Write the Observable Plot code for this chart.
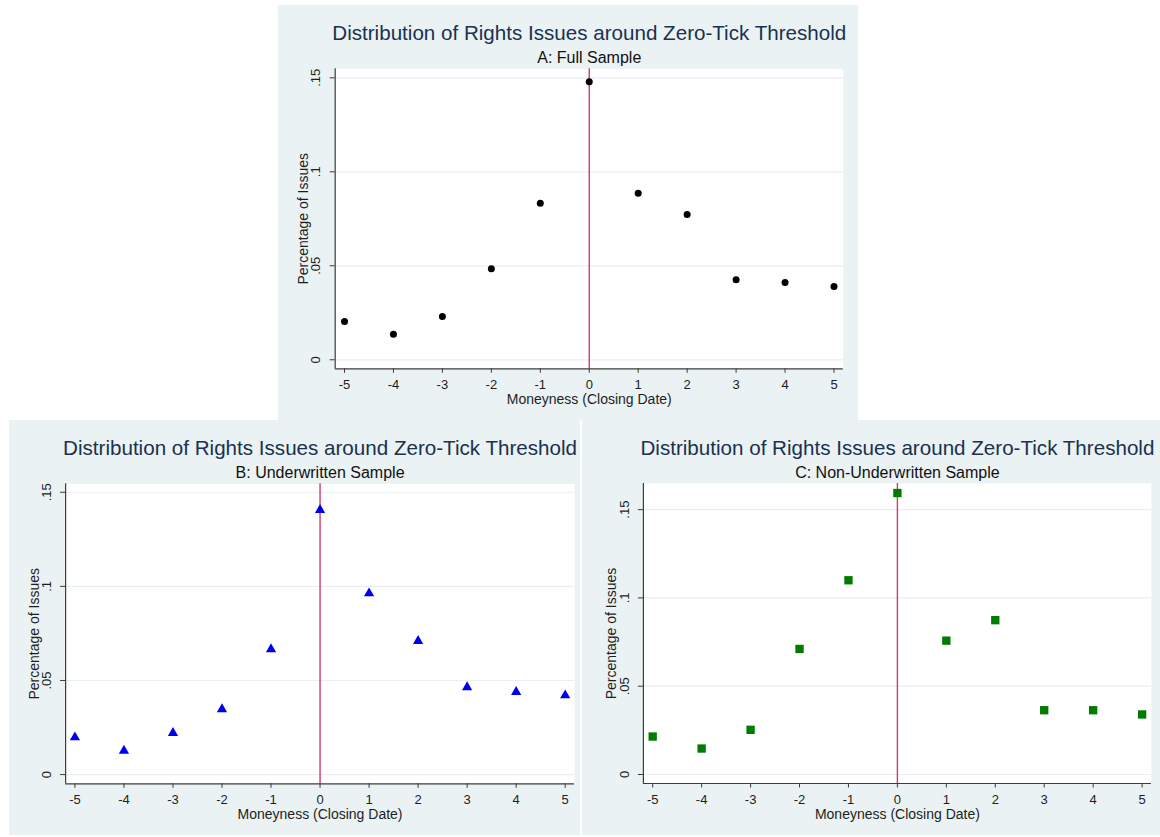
<!DOCTYPE html>
<html>
<head>
<meta charset="utf-8">
<script src="https://cdn.jsdelivr.net/npm/d3@7"></script>
<script src="https://cdn.jsdelivr.net/npm/@observablehq/plot@0.6"></script>
<style>
  html, body { margin: 0; padding: 0; background: #ffffff; }
  body { width: 1160px; height: 837px; position: relative; overflow: hidden; }
  svg.panel { position: absolute; }
</style>
</head>
<body>
<script>
// ---- data ----
const moneyness = [-5, -4, -3, -2, -1, 0, 1, 2, 3, 4, 5];
const xTickLabels = ["-5", "-4", "-3", "-2", "-1", "0", "1", "2", "3", "4", "5"];
const yTicks = [0, 0.05, 0.1, 0.15];
const yTickLabels = ["0", ".05", ".1", ".15"];
const fullSample = [0.0204, 0.0136, 0.0230, 0.0484, 0.0833, 0.1479, 0.0886, 0.0773, 0.0426, 0.0411, 0.0390];
const underwritten = [0.0198, 0.0127, 0.0221, 0.0347, 0.0666, 0.1406, 0.0963, 0.0710, 0.0464, 0.0439, 0.0421];
const nonUnderwritten = [0.0215, 0.0147, 0.0253, 0.0711, 0.1100, 0.1594, 0.0758, 0.0874, 0.0364, 0.0364, 0.0340];
const threshold = [0];
const mainTitle = "Distribution of Rights Issues around Zero-Tick Threshold";
const subtitles = ["A: Full Sample", "B: Underwritten Sample", "C: Non-Underwritten Sample"];
const xLabel = "Moneyness (Closing Date)";
const yLabel = "Percentage of Issues";

// ---- layout / style ----
const FONT = '"Liberation Sans", Arial, Helvetica, sans-serif';
const BG = "#eaf2f3";
const NAVY = "#1a3150";
const TEXT = "#1e1e1e";
const AXIS = "#3c3c3c";
const xDomain = [-5.19, 5.19];

function panel(cfg) {
  const data = moneyness.map((m, i) => ({m, v: cfg.values[i]}));
  const svg = Plot.plot({
    width: cfg.width,
    height: cfg.height,
    marginLeft: cfg.mL,
    marginRight: cfg.mR,
    marginTop: cfg.mT,
    marginBottom: cfg.mB,
    style: {background: BG, fontFamily: FONT, color: TEXT, overflow: "visible"},
    x: {domain: xDomain},
    y: {domain: cfg.yDomain},
    marks: [
      Plot.frame({fill: "white", stroke: null}),
      Plot.gridY(yTicks, {stroke: "#e8eff1", strokeOpacity: 1, strokeWidth: 1.2}),
      Plot.ruleX(threshold, {stroke: "#d33c66", strokeWidth: 1.4}),
      Plot.ruleX([xDomain[0]], {stroke: AXIS, strokeWidth: 1.2}),
      Plot.ruleY([cfg.yDomain[0]], {stroke: AXIS, strokeWidth: 1.2}),
      Plot.axisX({ticks: moneyness, tickFormat: d => xTickLabels[moneyness.indexOf(d)],
        tickSize: 4.5, tickPadding: 6.5, fontSize: 13, label: null, stroke: AXIS, fill: TEXT}),
      Plot.axisY({ticks: yTicks, tickFormat: () => "", tickSize: 5, label: null, stroke: AXIS}),
      Plot.text(yTicks, {y: d => d, text: (d, i) => yTickLabels[i], frameAnchor: "left", dx: -19,
        rotate: -90, textAnchor: "middle", lineAnchor: "middle", fontSize: 13, fill: TEXT}),
      Plot.text([yLabel], {text: d => d, frameAnchor: "left", dx: -31.5, rotate: -90,
        textAnchor: "middle", lineAnchor: "middle", fontSize: 14, fill: TEXT}),
      Plot.text([xLabel], {text: d => d, frameAnchor: "bottom", dy: 31, lineAnchor: "middle",
        fontSize: 14, fill: TEXT}),
      Plot.text([mainTitle], {text: d => d, frameAnchor: "top", dy: 34.5 - cfg.mT, lineAnchor: "bottom",
        fontSize: 20.6, fill: NAVY}),
      Plot.text([cfg.subtitle], {text: d => d, frameAnchor: "top", dy: 57 - cfg.mT, lineAnchor: "bottom",
        fontSize: 16, fill: "#111"}),
      cfg.symbol === "circle"
        ? Plot.dot(data, {x: "m", y: "v", r: cfg.r, fill: cfg.color, stroke: null})
        : Plot.dot(data, {x: "m", y: "v", r: cfg.r, symbol: cfg.symbol, fill: cfg.color, stroke: null})
    ]
  });
  svg.classList.add("panel");
  svg.style.left = cfg.left + "px";
  svg.style.top = cfg.top + "px";
  document.body.appendChild(svg);
}

panel({left: 278, top: 5, width: 580, height: 415, mL: 56.7, mR: 15.2, mT: 63.3, mB: 51.7,
  yDomain: [-0.0048, 0.1548], values: fullSample, symbol: "circle", r: 3.5, color: "#000000", subtitle: subtitles[0]});
panel({left: 9, top: 420, width: 571, height: 415, mL: 56.1, mR: 6, mT: 63.3, mB: 51.7,
  yDomain: [-0.0049, 0.1545], values: underwritten, symbol: "triangle", r: 3.8, color: "#0000f0", subtitle: subtitles[1]});
panel({left: 582, top: 420, width: 578, height: 415, mL: 60.9, mR: 9.1, mT: 63, mB: 52,
  yDomain: [-0.0051, 0.1648], values: nonUnderwritten, symbol: "square", r: 4.7, color: "#007a00", subtitle: subtitles[2]});
</script>
</body>
</html>
